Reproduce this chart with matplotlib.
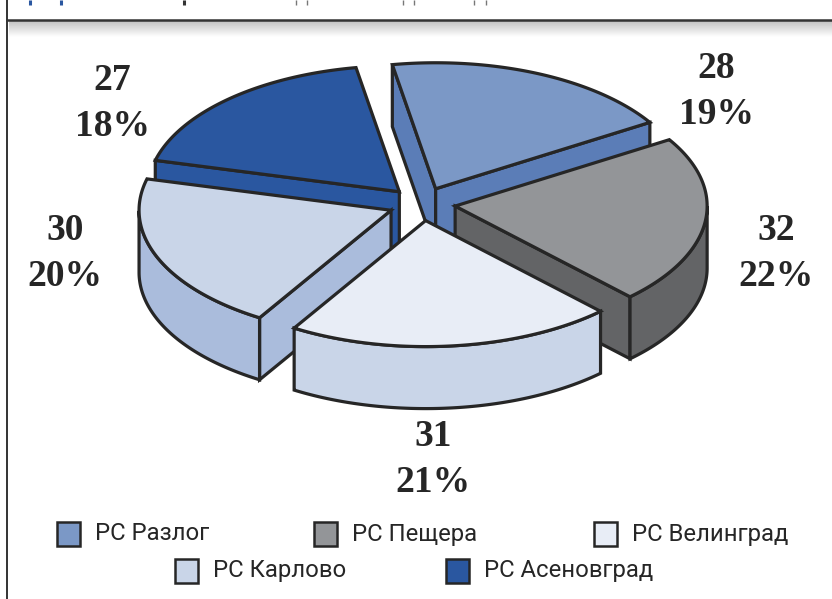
import numpy as np
import matplotlib
matplotlib.use("Agg")
import matplotlib.pyplot as plt
from matplotlib.patches import Polygon, Rectangle

names = ["РС Разлог", "РС Пещера", "РС Велинград", "РС Карлово", "РС Асеновград"]
values = [28, 32, 31, 30, 27]
top_colors = ["#7b98c6", "#939598", "#e8edf6", "#c9d5e8", "#2a57a0"]
side_colors = ["#5b7db7", "#636466", "#c9d5e8", "#aabcdc", "#2a57a0"]
draw_order = [4, 0, 3, 1, 2]
label_xy = [(716, 68), (776, 230), (433, 436), (65, 230), (112, 80)]
legend_xy = [(57, 534), (314, 534), (594, 534), (175, 571), (446, 571)]
# bottoms of the cropped header line that still show at the top edge
header_ticks = [(30, "#2a57a0", 2.2), (61, "#2a57a0", 2.2), (184, "#333333", 2.2),
                (296, "#777777", 1.0), (307, "#777777", 1.0), (403, "#777777", 1.0),
                (414, "#777777", 1.0), (474, "#777777", 1.0), (486, "#777777", 1.0)]

W, H = 832, 599
CX, CY = 422.0, 204.0
RX, RY = 252.0, 126.0
DEPTH = 62.0
EXPLODE = 0.1325
START = 99.9
EDGE = "#262626"
LW = 2.3

fig = plt.figure(figsize=(W / 100, H / 100), dpi=100)
ax = fig.add_axes([0, 0, 1, 1])
ax.set_xlim(0, W)
ax.set_ylim(H, 0)
ax.axis("off")

# header shadow
grad = np.linspace(0.76, 1, 40)[:, None]
ax.imshow(grad, extent=(9, W, 37, 21), cmap="gray", vmin=0, vmax=1, aspect="auto", zorder=1)
ax.set_xlim(0, W)
ax.set_ylim(H, 0)
ax.plot([7, 7], [0, H], color="#333333", lw=1.4, zorder=2)
ax.plot([7, W], [20, 20], color="#333333", lw=1.8, zorder=2)

for x, c, w in header_ticks:
    ax.plot([x, x], [0, 5], color=c, lw=w, solid_capstyle="butt", zorder=2)

total = sum(values)
bounds = [START]
for v in values:
    bounds.append(bounds[-1] - v / total * 360)


def pt(ox, oy, t):
    r = np.radians(t)
    return np.column_stack([ox + RX * np.cos(r), oy - RY * np.sin(r)])


def face(pts, color, z):
    ax.add_patch(Polygon(pts, closed=True, facecolor=color, edgecolor=EDGE, lw=LW,
                         joinstyle="miter", zorder=z))


for k, i in enumerate(draw_order):
    t0, t1 = bounds[i], bounds[i + 1]
    mid = np.radians((t0 + t1) / 2)
    ox = CX + EXPLODE * RX * np.cos(mid)
    oy = CY - EXPLODE * RY * np.sin(mid)
    apex = np.array([[ox, oy]])
    z = 10 + k
    arc = pt(ox, oy, np.linspace(t0, t1, 160))
    down = np.array([0, DEPTH])
    # cut faces, only when turned to the viewer
    p0, p1 = arc[0], arc[-1]
    if p0[0] < ox:
        face(np.vstack([apex, [p0], [p0 + down], apex + down]), side_colors[i], z)
    if p1[0] > ox:
        face(np.vstack([apex, [p1], [p1 + down], apex + down]), side_colors[i], z)
    # outer wall
    ts = np.linspace(t0, t1, 160)
    front = ts[np.sin(np.radians(ts)) < 0]
    if len(front) > 1:
        a = pt(ox, oy, front)
        face(np.vstack([a, (a + down)[::-1]]), side_colors[i], z)
    # top
    face(np.vstack([apex, arc]), top_colors[i], z + 0.5)

for (x, y), v in zip(label_xy, values):
    for dy, s in ((0, f"{v}"), (47, f"{round(v / total * 100)}%")):
        ax.text(x, y + dy, s, family="Liberation Serif", weight="bold",
                fontsize=27, color="#262626", ha="center", va="center", zorder=30)

for (x, y), n, c in zip(legend_xy, names, top_colors):
    ax.add_patch(Rectangle((x, y - 12), 23, 24, facecolor=c, edgecolor=EDGE, lw=1.8, zorder=30))
    ax.text(x + 38, y, n, family="Roboto", fontsize=17.2, color="#262626",
            ha="left", va="center", zorder=30)

fig.savefig("out.png", dpi=100)
